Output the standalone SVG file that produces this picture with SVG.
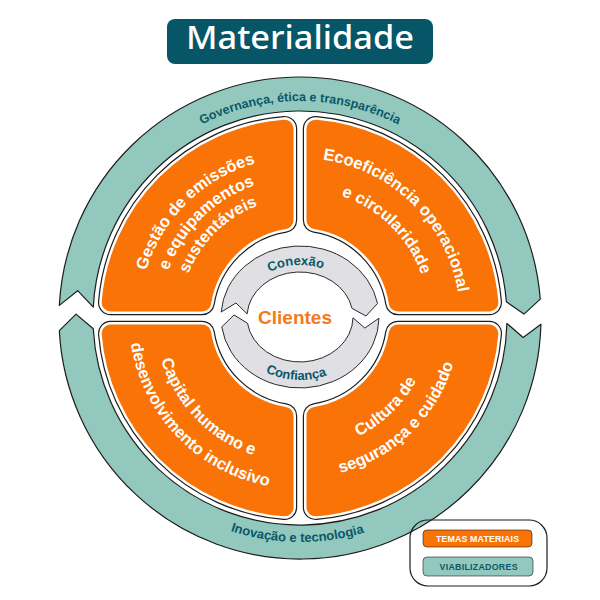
<svg xmlns="http://www.w3.org/2000/svg" xmlns:xlink="http://www.w3.org/1999/xlink" width="600" height="600" viewBox="0 0 600 600">
<style>
.ring{fill:#92c8be;stroke:#1d1d1d;stroke-width:1.2;stroke-linejoin:round}
.rt{font-family:"Liberation Sans",Arial,sans-serif;font-weight:bold;font-size:12.5px;fill:#0b5868}
.qk{fill:none;stroke:#1d1d1d;stroke-width:25.4;stroke-linejoin:round}
.qw{fill:#fff;stroke:#fff;stroke-width:23;stroke-linejoin:round}
.qo{fill:#f97306;stroke:#f97306;stroke-width:18;stroke-linejoin:round}
.qt{font-family:"Liberation Sans",Arial,sans-serif;font-weight:bold;font-size:16.5px;fill:#fff}
.arr{fill:#e0dfe3;stroke:#2a2a2a;stroke-width:1;stroke-linejoin:round}
.at{font-family:"Liberation Sans",Arial,sans-serif;font-weight:bold;font-size:13px;fill:#0b5868}
</style>
<defs>
<path id="sTL" d="M110.63,302.5 A190,190 0 0 1 284.5,128.63 L284.5,220.22 A99,99 0 0 0 202.22,302.5 Z"/>
<path id="sTR" d="M315.5,128.63 A190,190 0 0 1 489.37,302.5 L397.78,302.5 A99,99 0 0 0 315.5,220.22 Z"/>
<path id="sBR" d="M489.37,333.5 A190,190 0 0 1 315.5,507.37 L315.5,415.78 A99,99 0 0 0 397.78,333.5 Z"/>
<path id="sBL" d="M284.5,507.37 A190,190 0 0 1 110.63,333.5 L202.22,333.5 A99,99 0 0 0 284.5,415.78 Z"/>
<path id="pGov" d="M96.09,243.78 A217,217 0 0 1 503.91,243.78"/>
<path id="pIno" d="M89.51,394.61 A224,224 0 0 0 510.49,394.61"/>
<path id="tl1" d="M153.50,384.77 A161,161 0 0 1 369.31,172.68"/>
<path id="tl2" d="M172.61,376.06 A140,140 0 0 1 360.27,191.64"/>
<path id="tl3" d="M190.80,367.76 A120,120 0 0 1 351.66,209.69"/>
<path id="tr1" d="M231.12,173.59 A160,160 0 0 1 445.59,384.35"/>
<path id="tr2" d="M244.46,201.57 A129,129 0 0 1 417.38,371.50"/>
<path id="bl1" d="M169.68,254.44 A145,145 0 0 0 358.98,450.46"/>
<path id="bl2" d="M146.31,243.04 A171,171 0 0 0 369.55,474.22"/>
<path id="br1" d="M242.14,436.64 A132,132 0 0 0 420.59,264.31"/>
<path id="br2" d="M229.86,461.81 A160,160 0 0 0 446.17,252.92"/>
<path id="pCon" d="M243.62,299.21 A60,52 0 0 1 356.38,299.21"/>
<path id="pConf" d="M233.28,338.55 A71,63 0 0 0 366.72,338.55"/>
</defs>
<rect width="600" height="600" fill="#fff"/>

<g id="title">
<rect x="167" y="19" width="266" height="45" rx="8" fill="#065668"/>
<text x="300" y="49" text-anchor="middle" textLength="228" lengthAdjust="spacingAndGlyphs" font-family="'Noto Sans','Open Sans',sans-serif" font-weight="500" font-size="33" fill="#fff">Materialidade</text>
</g>

<g id="ring-governanca">
<path class="ring" d="M59.33,305.39 A241,241 0 0 1 540.26,299.09 L523.97,314.09 L506.36,301.76 A207,207 0 0 0 93.28,307.17 L77.67,290.70 Z"/>
<text class="rt"><textPath xlink:href="#pGov" href="#pGov" startOffset="50%" text-anchor="middle">Governança, ética e transparência</textPath></text>
</g>

<g id="ring-inovacao">
<path class="ring" d="M540.92,324.31 A241,241 0 0 1 59.33,330.61 L76.03,314.09 L93.28,328.83 A207,207 0 0 0 506.93,323.42 L523.15,337.52 Z"/>
<text class="rt" style="font-size:13px"><textPath xlink:href="#pIno" href="#pIno" startOffset="49.5%" text-anchor="middle">Inovação e tecnologia</textPath></text>
</g>

<g id="q-gestao">
<use xlink:href="#sTL" href="#sTL" class="qk"/>
<use xlink:href="#sTL" href="#sTL" class="qw"/>
<use xlink:href="#sTL" href="#sTL" class="qo"/>
<text class="qt"><textPath xlink:href="#tl1" href="#tl1" startOffset="50%" text-anchor="middle">Gestão de emissões</textPath></text>
<text class="qt"><textPath xlink:href="#tl2" href="#tl2" startOffset="50%" text-anchor="middle">e equipamentos</textPath></text>
<text class="qt"><textPath xlink:href="#tl3" href="#tl3" startOffset="50%" text-anchor="middle">sustentáveis</textPath></text>
</g>

<g id="q-ecoeficiencia">
<use xlink:href="#sTR" href="#sTR" class="qk"/>
<use xlink:href="#sTR" href="#sTR" class="qw"/>
<use xlink:href="#sTR" href="#sTR" class="qo"/>
<text class="qt"><textPath xlink:href="#tr1" href="#tr1" startOffset="50%" text-anchor="middle">Ecoeficiência operacional</textPath></text>
<text class="qt"><textPath xlink:href="#tr2" href="#tr2" startOffset="50%" text-anchor="middle">e circularidade</textPath></text>
</g>

<g id="q-capital">
<use xlink:href="#sBL" href="#sBL" class="qk"/>
<use xlink:href="#sBL" href="#sBL" class="qw"/>
<use xlink:href="#sBL" href="#sBL" class="qo"/>
<text class="qt"><textPath xlink:href="#bl1" href="#bl1" startOffset="50%" text-anchor="middle">Capital humano e</textPath></text>
<text class="qt"><textPath xlink:href="#bl2" href="#bl2" startOffset="50%" text-anchor="middle">desenvolvimento inclusivo</textPath></text>
</g>

<g id="q-cultura">
<use xlink:href="#sBR" href="#sBR" class="qk"/>
<use xlink:href="#sBR" href="#sBR" class="qw"/>
<use xlink:href="#sBR" href="#sBR" class="qo"/>
<text class="qt"><textPath xlink:href="#br1" href="#br1" startOffset="50%" text-anchor="middle">Cultura de</textPath></text>
<text class="qt"><textPath xlink:href="#br2" href="#br2" startOffset="50%" text-anchor="middle">segurança e cuidado</textPath></text>
</g>

<g id="connectors">
<g id="arrow-conexao">
<path class="arr" d="M221.19,312.05 A79,71 0 0 1 377.55,303.45 L365.99,315.99 L352.03,308.41 A53,45 0 0 0 247.13,313.86 L235.96,302.97 Z"/>
<text class="at"><textPath xlink:href="#pCon" href="#pCon" startOffset="47%" text-anchor="middle">Conexão</textPath></text>
</g>
<g id="arrow-confianca">
<path class="arr" d="M378.99,318.24 A79,71 0 0 1 221.77,326.88 L234.04,314.98 L247.52,323.26 A53,45 0 0 0 352.99,317.79 L364.79,328.07 Z"/>
<text class="at"><textPath xlink:href="#pConf" href="#pConf" startOffset="47.5%" text-anchor="middle">Confiança</textPath></text>
</g>
</g>

<g id="center-clientes">
<text x="295" y="324" text-anchor="middle" font-family="'Liberation Sans',Arial,sans-serif" font-weight="bold" font-size="19" fill="#f47a1c">Clientes</text>
</g>

<g id="legend">
<rect x="410" y="520" width="137" height="66" rx="18" fill="none" stroke="#1d1d1d" stroke-width="1.2"/>
<rect x="423" y="530" width="109" height="17" rx="4" fill="#f97306" stroke="#1d1d1d" stroke-width="0.6"/>
<text x="477.5" y="542" text-anchor="middle" textLength="83" lengthAdjust="spacing" font-family="'Liberation Sans',Arial,sans-serif" font-weight="bold" font-size="8.8" fill="#fff">TEMAS MATERIAIS</text>
<rect x="423" y="557" width="110" height="19" rx="4" fill="#92c8be" stroke="#1d1d1d" stroke-width="0.6"/>
<text x="478.5" y="570" text-anchor="middle" textLength="78" lengthAdjust="spacing" font-family="'Liberation Sans',Arial,sans-serif" font-weight="bold" font-size="8.8" fill="#0b5868">VIABILIZADORES</text>
</g>
</svg>
